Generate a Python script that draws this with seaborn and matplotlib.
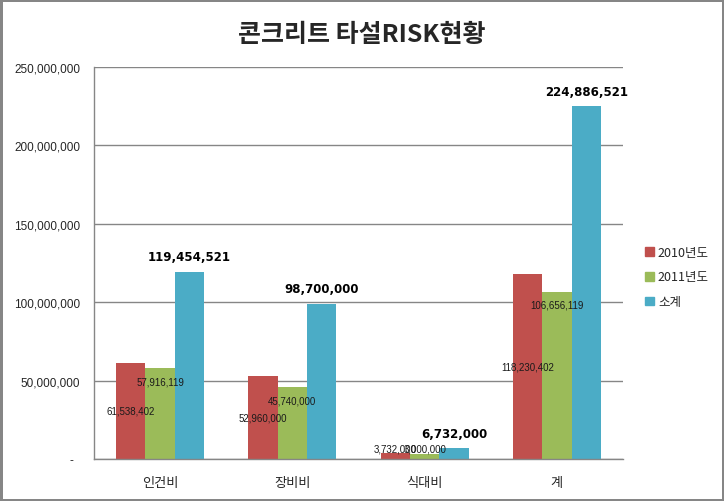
"""콘크리트 타설 RISK 현황 막대 차트."""

import matplotlib
matplotlib.use("Agg")
import matplotlib.pyplot as plt
import matplotlib.ticker as mticker
from matplotlib.patches import Rectangle
import pandas as pd
import seaborn as sns

# 데이터
CATEGORIES = ["인건비", "장비비", "식대비", "계"]
SERIES = ["2010년도", "2011년도", "소계"]
VAL_2010 = [61538402, 52960000, 3732000, 118230402]
VAL_2011 = [57916119, 45740000, 3000000, 106656119]
VAL_SUM = [119454521, 98700000, 6732000, 224886521]
COLORS = ["#C0504D", "#9BBB59", "#4BACC6"]

sns.set_theme(style="white")
plt.rcParams["font.family"] = ["Noto Sans CJK KR", "DejaVu Sans"]

df = pd.DataFrame({
    "category": CATEGORIES * 3,
    "series": [s for s in SERIES for _ in CATEGORIES],
    "value": VAL_2010 + VAL_2011 + VAL_SUM,
})

fig = plt.figure(figsize=(7.24, 5.02), dpi=100)
ax = fig.add_axes([94 / 724, 1 - 460 / 502, (623 - 94) / 724, (460 - 68) / 502])

sns.barplot(
    data=df, x="category", y="value", hue="series",
    order=CATEGORIES, hue_order=SERIES, palette=COLORS,
    width=0.667, saturation=1, errorbar=None, ax=ax, legend=False,
)
for cont in ax.containers:
    for bar in cont:
        bar.set_edgecolor("none")

ax.set_xlim(-0.5, 3.5)
ax.set_ylim(0, 250_000_000)
ax.yaxis.set_major_locator(mticker.MultipleLocator(50_000_000))
ax.yaxis.set_major_formatter(
    mticker.FuncFormatter(lambda v, _: "-  " if v == 0 else f"{v:,.0f}")
)
ax.set_xlabel("")
ax.set_ylabel("")

# 격자선 / 축 스타일
ax.grid(axis="y", color="#868686", linewidth=1)
ax.set_axisbelow(True)
for side in ["top", "right"]:
    ax.spines[side].set_visible(False)
for side in ["left", "bottom"]:
    ax.spines[side].set_color("#868686")
    ax.spines[side].set_linewidth(1)
ax.tick_params(axis="y", length=5, color="#868686", pad=5, labelsize=8.5)
ax.tick_params(axis="x", length=0, pad=12, labelsize=9.5)
for lbl in ax.get_yticklabels():
    lbl.set_fontfamily(["Liberation Sans", "DejaVu Sans"])

# 값 라벨
bars_2010, bars_2011, bars_sum = ax.containers
for bar, v in zip(bars_2010, VAL_2010):
    x = bar.get_x() + bar.get_width() / 2
    ax.text(x, max(v / 2, 7_000_000), f"{v:,}", ha="center", va="center",
            fontsize=7, family=["Liberation Sans", "DejaVu Sans"], color="#1a1a1a")
for bar, v in zip(bars_2011, VAL_2011):
    x = bar.get_x() + bar.get_width() / 2
    ax.text(x, max(v - 8_300_000, 7_000_000), f"{v:,}", ha="center", va="center",
            fontsize=7, family=["Liberation Sans", "DejaVu Sans"], color="#1a1a1a")
for bar, v in zip(bars_sum, VAL_SUM):
    x = bar.get_x() + bar.get_width() / 2
    ax.annotate(f"{v:,}", (x, v), textcoords="offset points", xytext=(0, 11),
                ha="center", va="center", fontsize=8.5, fontweight="heavy",
                family="DejaVu Sans", color="black")

fig.suptitle("콘크리트 타설RISK현황", x=0.5, y=1 - 35 / 502, va="center",
             fontsize=18, fontweight="heavy")

# 범례
handles = [Rectangle((0, 0), 1, 1, color=c) for c in COLORS]
fig.legend(handles, SERIES, loc="center left", bbox_to_anchor=(0.876, 1 - 278 / 502),
           frameon=False, fontsize=9, handlelength=0.7, handleheight=0.7,
           handletextpad=0.3, labelspacing=0.95)

# 외곽 테두리
fig.patch.set_edgecolor("#868686")
fig.patch.set_linewidth(2.5)

fig.savefig("out.png", dpi=100, facecolor="white", edgecolor=fig.patch.get_edgecolor())
